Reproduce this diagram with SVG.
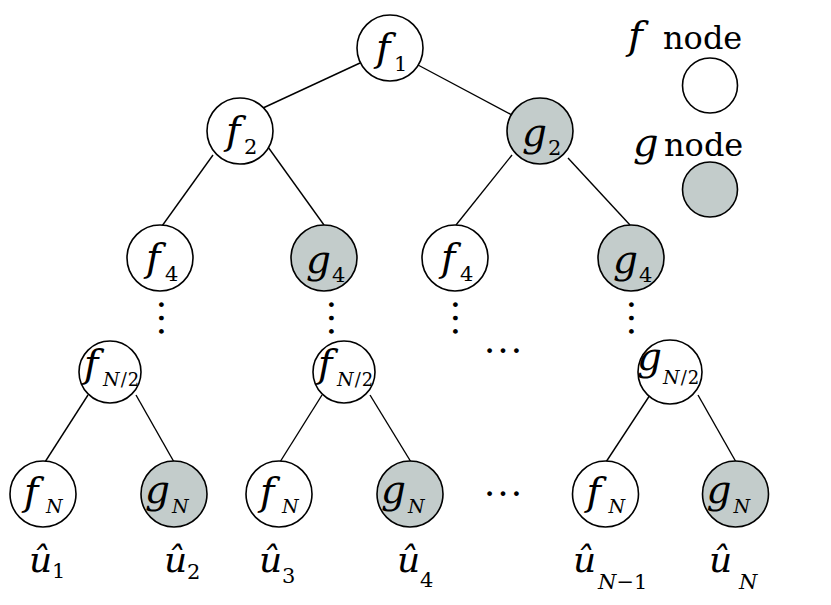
<svg xmlns="http://www.w3.org/2000/svg" width="831" height="605" viewBox="0 0 831 605">
<style>
.nf{fill:#ffffff;stroke:#000;stroke-width:1.6}
.ng{fill:#c3cccb;stroke:#000;stroke-width:1.6}
.ln{stroke:#000;stroke-width:1.4;fill:none}
.t{font-family:"DejaVu Serif",serif;fill:#000}
.e{font-family:"Liberation Serif",serif;fill:#000;font-size:40px}
.m{font-size:39px;font-style:italic}
.mb{font-size:40px;font-style:italic}
.s{font-size:21px}
.si{font-size:19px;font-style:italic}
.sn{font-size:18px}
.u{font-size:36px;font-style:italic}
.us{font-size:21px}
.usi{font-size:21px;font-style:italic}
.lg{font-size:32px}
</style>
<rect width="831" height="605" fill="#fff"/>
<g id="connectors">
<line class="ln" x1="360" y1="63" x2="263" y2="108"/>
<line class="ln" x1="418" y1="65" x2="512" y2="115"/>
<line class="ln" x1="213" y1="155" x2="162" y2="226"/>
<line class="ln" x1="268" y1="147" x2="324" y2="225"/>
<line class="ln" x1="512" y1="155" x2="456" y2="225"/>
<line class="ln" x1="568" y1="158" x2="630" y2="225"/>
<line class="ln" x1="88" y1="395" x2="45" y2="462"/>
<line class="ln" x1="136" y1="395" x2="174" y2="462"/>
<line class="ln" x1="322" y1="395" x2="280" y2="462"/>
<line class="ln" x1="370" y1="395" x2="411" y2="462"/>
<line class="ln" x1="650" y1="395" x2="606" y2="462"/>
<line class="ln" x1="698" y1="395" x2="736" y2="462"/>
</g>
<g id="legend">
<text class="t"><tspan class="mb" x="628" y="49">f</tspan><tspan class="lg" x="663" y="49">node</tspan></text>
<circle class="nf" cx="710" cy="85.5" r="27.5"/>
<text class="t"><tspan class="mb" x="633" y="156">g</tspan><tspan class="lg" x="664" y="156">node</tspan></text>
<circle class="ng" cx="710" cy="189.5" r="27.5"/>
</g>
<g id="f1"><circle class="nf" cx="390" cy="48" r="33"/><text class="t"><tspan class="m" x="376" y="61">f</tspan><tspan class="s" x="394" y="71">1</tspan></text></g>
<g id="f2"><circle class="nf" cx="240" cy="131" r="33"/><text class="t"><tspan class="m" x="226" y="144">f</tspan><tspan class="s" x="244" y="154">2</tspan></text></g>
<g id="g2"><circle class="ng" cx="540" cy="131" r="33"/><text class="t"><tspan class="m" x="522" y="146">g</tspan><tspan class="s" x="548" y="155">2</tspan></text></g>
<g id="f4a"><circle class="nf" cx="160" cy="258" r="33"/><text class="t"><tspan class="m" x="146" y="271">f</tspan><tspan class="s" x="165" y="281">4</tspan></text></g>
<g id="g4a"><circle class="ng" cx="324" cy="258" r="33"/><text class="t"><tspan class="m" x="306" y="273">g</tspan><tspan class="s" x="332" y="282">4</tspan></text></g>
<g id="f4b"><circle class="nf" cx="455" cy="258" r="33"/><text class="t"><tspan class="m" x="441" y="271">f</tspan><tspan class="s" x="460" y="281">4</tspan></text></g>
<g id="g4b"><circle class="ng" cx="631" cy="258" r="33"/><text class="t"><tspan class="m" x="613" y="273">g</tspan><tspan class="s" x="639" y="282">4</tspan></text></g>
<g id="vdots">
<text class="e" text-anchor="middle" transform="translate(161,318) rotate(90)" x="0" y="2">…</text>
<text class="e" text-anchor="middle" transform="translate(331,318) rotate(90)" x="0" y="2">…</text>
<text class="e" text-anchor="middle" transform="translate(455,318) rotate(90)" x="0" y="2">…</text>
<text class="e" text-anchor="middle" transform="translate(631,318) rotate(90)" x="0" y="2">…</text>
</g>
<g id="hdots">
<text class="e" text-anchor="middle" x="503" y="353">…</text>
<text class="e" text-anchor="middle" x="503" y="496">…</text>
</g>
<g id="fN2a"><circle class="nf" cx="110" cy="372" r="31"/><text class="t"><tspan class="m" x="84" y="377">f</tspan><tspan class="si" x="103" y="386">N</tspan><tspan class="sn" dx="1">/</tspan><tspan class="sn" dx="1">2</tspan></text></g>
<g id="fN2b"><circle class="nf" cx="344" cy="372" r="31"/><text class="t"><tspan class="m" x="318" y="377">f</tspan><tspan class="si" x="337" y="386">N</tspan><tspan class="sn" dx="1">/</tspan><tspan class="sn" dx="1">2</tspan></text></g>
<g id="gN2"><circle class="nf" cx="670" cy="372" r="32"/><text class="t"><tspan class="m" x="637" y="370">g</tspan><tspan class="si" x="663" y="384">N</tspan><tspan class="sn" dx="1">/</tspan><tspan class="sn" dx="1">2</tspan></text></g>
<g id="fNa"><circle class="nf" cx="43" cy="494" r="33"/><text class="t"><tspan class="m" x="24" y="505">f</tspan><tspan class="si" x="46" y="513">N</tspan></text></g>
<g id="gNa"><circle class="ng" cx="174" cy="494" r="33"/><text class="t"><tspan class="m" x="145" y="503">g</tspan><tspan class="si" x="172" y="513">N</tspan></text></g>
<g id="fNb"><circle class="nf" cx="279" cy="494" r="33"/><text class="t"><tspan class="m" x="260" y="505">f</tspan><tspan class="si" x="282" y="513">N</tspan></text></g>
<g id="gNb"><circle class="ng" cx="410" cy="494" r="33"/><text class="t"><tspan class="m" x="381" y="503">g</tspan><tspan class="si" x="408" y="513">N</tspan></text></g>
<g id="fNc"><circle class="nf" cx="605.5" cy="494" r="33"/><text class="t"><tspan class="m" x="586.5" y="505">f</tspan><tspan class="si" x="608.5" y="513">N</tspan></text></g>
<g id="gNc"><circle class="ng" cx="735.5" cy="494" r="33"/><text class="t"><tspan class="m" x="706.5" y="503">g</tspan><tspan class="si" x="733.5" y="513">N</tspan></text></g>
<g id="outputs">
<text class="t"><tspan class="u" x="29" y="572">û</tspan><tspan class="us" x="52" y="578">1</tspan></text>
<text class="t"><tspan class="u" x="164" y="572">û</tspan><tspan class="us" x="187" y="579">2</tspan></text>
<text class="t"><tspan class="u" x="259" y="572">û</tspan><tspan class="us" x="282" y="583">3</tspan></text>
<text class="t"><tspan class="u" x="397" y="572">û</tspan><tspan class="us" x="420" y="587">4</tspan></text>
<text class="t"><tspan class="u" x="573" y="572">û</tspan><tspan class="usi" x="598" y="589">N</tspan><tspan class="us">−1</tspan></text>
<text class="t"><tspan class="u" x="709" y="572">û</tspan><tspan class="usi" x="739" y="589">N</tspan></text>
</g>
</svg>
